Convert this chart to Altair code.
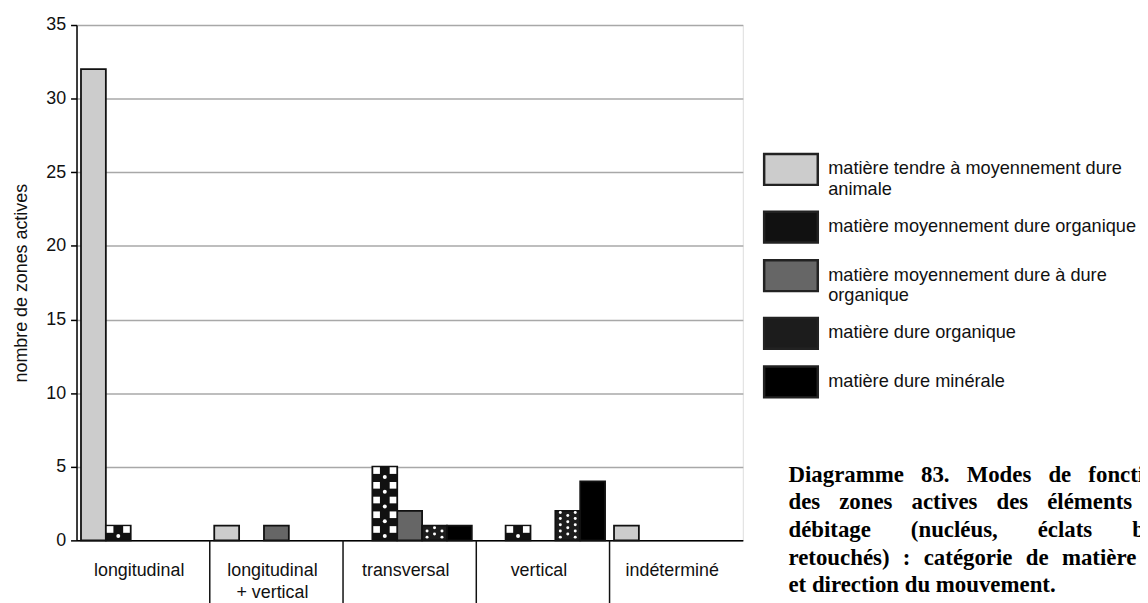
import altair as alt
import pandas as pd

# ---- data ----
categories = ["longitudinal", "longitudinal\n+ vertical", "transversal", "vertical", "indéterminé"]
series = [
    "matière tendre à moyennement dure\nanimale",
    "matière moyennement dure organique",
    "matière moyennement dure à  dure\norganique",
    "matière dure organique",
    "matière dure minérale",
]
tendre_animale = [32, 1, 0, 0, 1]
moyen_organique = [1, 0, 5, 1, 0]
moyen_dure_organique = [0, 1, 2, 0, 0]
dure_organique = [0, 0, 1, 2, 0]
dure_minerale = [0, 0, 1, 4, 0]
y_ticks = [0, 5, 10, 15, 20, 25, 30, 35]
y_title = "nombre de zones actives"
caption_lines = [
    ["Diagramme", "83.", "Modes", "de", "fonctionnement"],
    ["des", "zones", "actives", "des", "éléments", "de"],
    ["débitage", "(nucléus,", "éclats", "bruts", "et"],
    ["retouchés)", ":", "catégorie", "de", "matière"],
    ["et", "direction", "du", "mouvement."],
]

# ---- styling ----
fills = ["#cccccc", "#111111", "#666666", "#1c1c1c", "#000000"]
NB, HAIR = "\u00a0", "\u200a"
caption_gaps = [NB * 3, NB * 3 + HAIR, NB * 7, NB * 2 + HAIR, NB]  # justified look
FONT = "Liberation Sans"

all_values = [tendre_animale, moyen_organique, moyen_dure_organique, dure_organique, dure_minerale]
rows = []
for si, (s, vals) in enumerate(zip(series, all_values)):
    for c, v in zip(categories, vals):
        rows.append({"cat": c, "ser": s, "si": si, "val": v})
df = pd.DataFrame(rows)
sep_df = pd.DataFrame({"cat": categories[1:]})
caption_text = [gap.join(words) for words, gap in zip(caption_lines, caption_gaps)]

W, H = 671, 519
PAD_OUT = 0.18

x_scale = alt.Scale(domain=categories, paddingInner=0, paddingOuter=0)
x_axis = alt.Axis(
    title=None, ticks=False, tickSize=0, labelPadding=21, labelFontSize=18, labelFont=FONT,
    labelColor="#111", labelExpr="split(datum.label, '\\n')", labelLineHeight=23,
    labelOffset=-4, domainColor="black", domainWidth=1.5, labelAngle=0,
)
xo = alt.XOffset("ser:N", sort=series, scale=alt.Scale(domain=series, paddingInner=0, paddingOuter=PAD_OUT))
xo_q = alt.XOffset("px:Q", scale=alt.Scale(domain=[-PAD_OUT, len(series) + PAD_OUT], nice=False, zero=False))
y_scale = alt.Scale(domain=[0, 35], nice=False)
y_axis = alt.Axis(
    values=y_ticks, title=y_title, titleFontSize=18, titleFontWeight="normal", titleFont=FONT,
    titleColor="#111", titlePadding=15, labelFontSize=18, labelFont=FONT, labelColor="#111",
    labelPadding=5, tickSize=6, tickColor="black", tickWidth=1.5, domainColor="black",
    domainWidth=1.5, grid=True, gridColor="#a8a8a8", gridWidth=1.5,
)


def X():
    return alt.X("cat:N", sort=categories, scale=x_scale, axis=x_axis)


base = alt.Chart(df)

bars = base.transform_filter("datum.val > 0").mark_bar(stroke="#111", strokeWidth=1.8).encode(
    x=X(),
    xOffset=xo,
    y=alt.Y("val:Q", scale=y_scale, axis=y_axis),
    color=alt.Color(
        "ser:N", sort=series, scale=alt.Scale(domain=series, range=fills),
        legend=alt.Legend(
            orient="none", legendX=691, legendY=117, title=None, padding=0,
            symbolType="M-1,-0.574H1V0.574H-1Z", symbolSize=2916,
            symbolStrokeColor="#222", symbolStrokeWidth=2.5, symbolOpacity=1,
            labelFontSize=18.3, labelFont=FONT, labelColor="#111", labelLimit=420,
            labelOffset=9, rowPadding=0, labelExpr="split(datum.label, '\\n')",
        ),
    ),
)


def overlay(si, seq_expr, dy, dxs, shape, size):
    src = (
        base.transform_filter(f"datum.si == {si} && datum.val > 0")
        .transform_calculate(seq=seq_expr)
        .transform_flatten(["seq"])
        .transform_calculate(py=f"datum.seq + {dy}")
    )
    layers = []
    for d in dxs:
        layers.append(
            src.transform_calculate(px=f"datum.si + 0.5 + ({d})")
            .mark_point(shape=shape, filled=True, color="white", opacity=1, size=size, strokeWidth=0)
            .encode(x=X(), xOffset=xo_q, y=alt.Y("py:Q", scale=y_scale, axis=y_axis))
        )
    return layers


# pattern overlays (checker / dotted fills), derived from the same values
pattern_layers = (
    overlay(1, "sequence(0, datum.val, 1)", 0.74, [-0.33, 0.33], "square", 45)
    + overlay(1, "sequence(0, datum.val, 1)", 0.3, [0], "circle", 16)
    + overlay(3, "sequence(0.22, datum.val, 0.42)", 0, [-0.3, 0.3], "circle", 9)
    + overlay(3, "sequence(0.43, datum.val - 0.1, 0.42)", 0, [0], "circle", 9)
)

separators = alt.Chart(sep_df).mark_rule(color="#111", strokeWidth=1.5).encode(
    x=alt.X("cat:N", sort=categories, scale=x_scale, axis=x_axis, bandPosition=0),
    y=alt.value(H),
    y2=alt.value(H + 90),
)

caption = alt.Chart(pd.DataFrame({"k": [0]})).mark_text(
    align="left", baseline="top", font="Liberation Serif", fontSize=23, fontWeight="bold",
    lineHeight=27.8, color="black",
).encode(x=alt.value(717), y=alt.value(442), text=alt.value(caption_text))

chart = (
    alt.layer(bars, *pattern_layers, separators, caption)
    .resolve_scale(xOffset="independent")
    .properties(
        width=W, height=H,
        padding={"left": 69, "top": 15, "right": 400, "bottom": 70},
        autosize=alt.AutoSizeParams(type="none"),
    )
    .configure_view(stroke="#7a7a7a", strokeWidth=2)
    .configure(background="white")
)

chart.save("out.html", embed_options={"renderer": "svg", "actions": False})
